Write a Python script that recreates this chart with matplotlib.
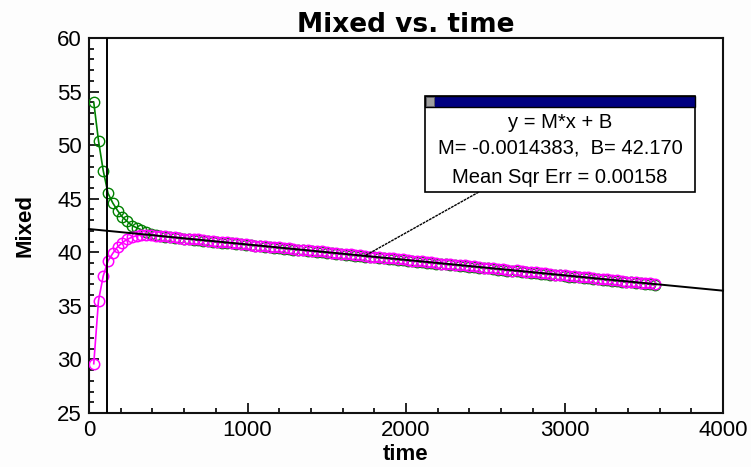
import matplotlib
matplotlib.use("Agg")
import matplotlib.pyplot as plt
from matplotlib.patches import Rectangle
from matplotlib.ticker import MultipleLocator

# ---- data -----------------------------------------------------------------
time_s = [30, 60, 90, 120, 150, 180, 210, 240, 270, 300, 330, 360,
          390, 420, 450, 480, 510, 540, 570, 600, 630, 660, 690, 720,
          750, 780, 810, 840, 870, 900, 930, 960, 990, 1020, 1050, 1080,
          1110, 1140, 1170, 1200, 1230, 1260, 1290, 1320, 1350, 1380, 1410, 1440,
          1470, 1500, 1530, 1560, 1590, 1620, 1650, 1680, 1710, 1740, 1770, 1800,
          1830, 1860, 1890, 1920, 1950, 1980, 2010, 2040, 2070, 2100, 2130, 2160,
          2190, 2220, 2250, 2280, 2310, 2340, 2370, 2400, 2430, 2460, 2490, 2520,
          2550, 2580, 2610, 2640, 2670, 2700, 2730, 2760, 2790, 2820, 2850, 2880,
          2910, 2940, 2970, 3000, 3030, 3060, 3090, 3120, 3150, 3180, 3210, 3240,
          3270, 3300, 3330, 3360, 3390, 3420, 3450, 3480, 3510, 3540, 3570]

mixed_top = [54.0, 50.4, 47.6, 45.5, 44.6, 43.9, 43.3, 42.9, 42.5, 42.3, 42.1, 41.9,
             41.70, 41.58, 41.49, 41.45, 41.40, 41.34, 41.30, 41.26, 41.21, 41.16,
             41.12, 41.09, 41.03, 40.99, 40.96, 40.90, 40.86, 40.83, 40.77, 40.73,
             40.70, 40.64, 40.60, 40.57, 40.51, 40.47, 40.44, 40.38, 40.34, 40.31,
             40.25, 40.21, 40.18, 40.12, 40.08, 40.05, 39.99, 39.95, 39.92, 39.86,
             39.82, 39.79, 39.73, 39.69, 39.66, 39.60, 39.56, 39.53, 39.47, 39.43,
             39.40, 39.34, 39.30, 39.27, 39.21, 39.17, 39.14, 39.08, 39.04, 39.01,
             38.95, 38.91, 38.88, 38.82, 38.78, 38.75, 38.69, 38.65, 38.62, 38.56,
             38.52, 38.49, 38.43, 38.39, 38.36, 38.30, 38.26, 38.23, 38.17, 38.13,
             38.10, 38.04, 38.00, 37.97, 37.91, 37.87, 37.84, 37.78, 37.74, 37.71,
             37.65, 37.61, 37.58, 37.52, 37.48, 37.45, 37.39, 37.35, 37.32, 37.26,
             37.22, 37.19, 37.13, 37.09, 37.06, 37.00, 36.96]

mixed_bottom = [29.6, 35.5, 37.8, 39.2, 39.9, 40.5, 40.9, 41.2, 41.4, 41.55, 41.62, 41.65,
                41.63, 41.55, 41.53, 41.51, 41.41, 41.39, 41.37, 41.27, 41.27, 41.21,
                41.20, 41.11, 41.09, 41.08, 40.98, 40.96, 40.93, 40.84, 40.83, 40.80,
                40.74, 40.72, 40.63, 40.62, 40.59, 40.51, 40.49, 40.47, 40.38, 40.36,
                40.34, 40.25, 40.23, 40.21, 40.12, 40.10, 40.08, 39.99, 39.97, 39.95,
                39.86, 39.85, 39.81, 39.73, 39.72, 39.69, 39.60, 39.59, 39.55, 39.47,
                39.46, 39.43, 39.34, 39.33, 39.30, 39.21, 39.20, 39.17, 39.08, 39.07,
                39.04, 38.95, 38.94, 38.91, 38.82, 38.81, 38.78, 38.69, 38.69, 38.65,
                38.56, 38.56, 38.52, 38.43, 38.43, 38.39, 38.30, 38.31, 38.26, 38.17,
                38.18, 38.13, 38.05, 38.05, 38.00, 37.92, 37.92, 37.87, 37.79, 37.79,
                37.74, 37.66, 37.66, 37.61, 37.53, 37.53, 37.48, 37.40, 37.40, 37.35,
                37.27, 37.27, 37.22, 37.14, 37.15, 37.09, 37.01]

fit_M = -0.0014383
fit_B = 42.170
fit_mse = 0.00158
fit_x = [0, 4000]
cursor_t = 113
callout_t = 1740

x_ticks = [0, 1000, 2000, 3000, 4000]
y_ticks = [25, 30, 35, 40, 45, 50, 55, 60]

# ---- figure ---------------------------------------------------------------
W, H = 751, 467
fig = plt.figure(figsize=(W / 100, H / 100), dpi=100)
fig.patch.set_facecolor("#fdfdfd")
ax = fig.add_axes([89 / W, 1 - 413 / H, (723 - 89) / W, (413 - 38) / H])
ax.set_facecolor("white")

ax.plot(time_s, mixed_top, color="#008000", lw=1.2, marker="o", ms=7.5,
        mfc="none", mec="#008000", mew=1.0, zorder=3)
ax.plot(time_s, mixed_bottom, color="#ff00ff", lw=1.2, marker="o", ms=7.5,
        mfc="none", mec="#ff00ff", mew=1.1, zorder=4)

fit_y = [fit_M * x + fit_B for x in fit_x]
ax.plot(fit_x, fit_y, color="black", lw=1.4, zorder=5, clip_on=False)
ax.axvline(cursor_t, color="black", lw=1.4, zorder=5)

ax.set_xlim(0, 4000)
ax.set_ylim(25, 60)
ax.set_xticks(x_ticks)
ax.set_yticks(y_ticks)
ax.xaxis.set_minor_locator(MultipleLocator(200))
ax.yaxis.set_minor_locator(MultipleLocator(1))

tick_font = dict(family="Liberation Sans", size=16)
ax.set_xticklabels([str(v) for v in x_ticks], **tick_font)
ax.set_yticklabels([str(v) for v in y_ticks], **tick_font)
ax.tick_params(which="major", direction="in", length=7, width=1.2, pad=5,
               color="black")
ax.tick_params(which="minor", direction="in", length=3.6, width=1.2,
               color="black")
for s in ax.spines.values():
    s.set_linewidth(1.5)
    s.set_color("#111111")

ax.set_title("Mixed vs. time", family="DejaVu Sans", weight="bold", size=19,
             pad=4)
ax.set_xlabel("time", family="Liberation Sans", weight="bold", size=16,
              labelpad=2)
ax.set_ylabel("Mixed", family="Liberation Sans", weight="bold", size=16,
              labelpad=16)

# ---- fit result callout --------------------------------------------------
bx0, bx1 = 2119, 3824
by0, by1 = 45.62, 54.58
bar_h = 1.03
ax.add_patch(Rectangle((bx0, by0), bx1 - bx0, by1 - by0, facecolor="white",
                       edgecolor="black", lw=1.2, zorder=7))
ax.add_patch(Rectangle((bx0, by1 - bar_h), bx1 - bx0, bar_h,
                       facecolor="#000080", edgecolor="black", lw=1.0,
                       zorder=8))
ax.add_patch(Rectangle((bx0 + 8, by1 - bar_h + 0.12), 50, bar_h - 0.24,
                       facecolor="#a0a0a0", edgecolor="#606060", lw=0.6,
                       zorder=9))
cx = (bx0 + bx1) / 2
box_font = dict(family="Liberation Sans", size=14.5, ha="center",
                va="center", zorder=9)
ax.text(cx, 52.16, "y = M*x + B", **box_font)
ax.text(cx, 49.73, f"M= {fit_M:.7f},  B= {fit_B:.3f}", **box_font)
ax.text(cx, 47.02, f"Mean Sqr Err = {fit_mse:.5f}", **box_font)
ax.plot([2459, callout_t], [by0, fit_M * callout_t + fit_B], color="black",
        lw=1.0, ls=(0, (2, 0.6)), zorder=6)

fig.savefig("out.png", dpi=100, facecolor=fig.get_facecolor())
